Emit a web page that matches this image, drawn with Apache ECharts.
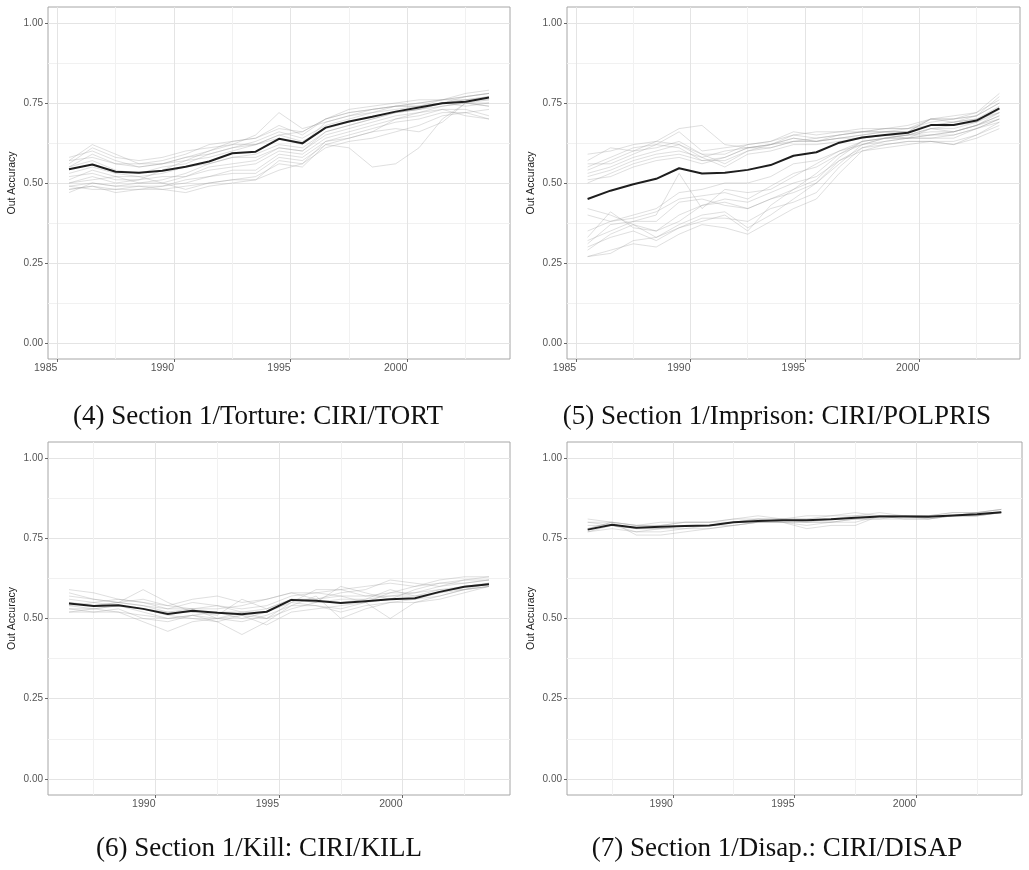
<!DOCTYPE html>
<html>
<head>
<meta charset="utf-8">
<title>Out Accuracy by year</title>
<script src="https://cdn.jsdelivr.net/npm/echarts@6/dist/echarts.min.js"></script>
<style>
  html, body { margin: 0; padding: 0; background: #fff; }
  #main { width: 1029px; height: 870px; }
</style>
</head>
<body>
<div id="main"></div>
<script>
// x position of each point (they sit between the year ticks)
const yearsTop = [1985.5, 1986.5, 1987.5, 1988.5, 1989.5, 1990.5, 1991.5, 1992.5, 1993.5, 1994.5,
  1995.5, 1996.5, 1997.5, 1998.5, 1999.5, 2000.5, 2001.5, 2002.5, 2003.5]
const yearsBottom = [1986.5, 1987.5, 1988.5, 1989.5, 1990.5, 1991.5, 1992.5, 1993.5, 1994.5,
  1995.5, 1996.5, 1997.5, 1998.5, 1999.5, 2000.5, 2001.5, 2002.5, 2003.5]

const xTicks = [1985, 1990, 1995, 2000]
const xMinor = [1987.5, 1992.5, 1997.5, 2002.5]
const yTicks = [0, 0.25, 0.5, 0.75, 1]
const yMinor = [0.125, 0.375, 0.625, 0.875]

// (4) torture
const tortMean = [0.543, 0.558, 0.535, 0.532, 0.538, 0.551, 0.567, 0.593, 0.598, 0.638, 0.624, 0.673, 0.692, 0.707, 0.723, 0.736, 0.749, 0.754, 0.767]
const tortRuns = [
  [0.57, 0.62, 0.59, 0.56, 0.57, 0.59, 0.62, 0.63, 0.64, 0.67, 0.66, 0.70, 0.72, 0.73, 0.74, 0.74, 0.76, 0.77, 0.78],
  [0.56, 0.61, 0.58, 0.57, 0.58, 0.60, 0.61, 0.62, 0.65, 0.72, 0.67, 0.69, 0.71, 0.73, 0.74, 0.75, 0.76, 0.78, 0.79],
  [0.58, 0.60, 0.57, 0.55, 0.56, 0.58, 0.60, 0.63, 0.64, 0.68, 0.65, 0.70, 0.73, 0.74, 0.75, 0.76, 0.76, 0.77, 0.78],
  [0.55, 0.59, 0.56, 0.55, 0.56, 0.58, 0.59, 0.61, 0.63, 0.66, 0.64, 0.68, 0.70, 0.72, 0.73, 0.74, 0.75, 0.76, 0.77],
  [0.50, 0.52, 0.50, 0.51, 0.54, 0.57, 0.58, 0.60, 0.62, 0.65, 0.63, 0.67, 0.69, 0.71, 0.72, 0.73, 0.75, 0.76, 0.76],
  [0.49, 0.50, 0.49, 0.50, 0.51, 0.53, 0.56, 0.58, 0.59, 0.62, 0.61, 0.66, 0.68, 0.70, 0.72, 0.73, 0.74, 0.75, 0.76],
  [0.48, 0.49, 0.48, 0.49, 0.49, 0.50, 0.52, 0.54, 0.54, 0.59, 0.58, 0.63, 0.64, 0.66, 0.70, 0.72, 0.74, 0.75, 0.75],
  [0.49, 0.48, 0.48, 0.48, 0.48, 0.49, 0.50, 0.51, 0.52, 0.56, 0.55, 0.62, 0.61, 0.55, 0.56, 0.61, 0.70, 0.75, 0.74],
  [0.50, 0.51, 0.52, 0.52, 0.50, 0.48, 0.50, 0.51, 0.51, 0.57, 0.56, 0.61, 0.63, 0.64, 0.66, 0.68, 0.71, 0.72, 0.73],
  [0.52, 0.53, 0.51, 0.51, 0.52, 0.52, 0.54, 0.55, 0.56, 0.60, 0.59, 0.64, 0.66, 0.68, 0.70, 0.71, 0.73, 0.73, 0.71],
  [0.53, 0.55, 0.53, 0.52, 0.53, 0.55, 0.56, 0.58, 0.58, 0.61, 0.60, 0.65, 0.67, 0.69, 0.71, 0.72, 0.73, 0.71, 0.70],
  [0.47, 0.50, 0.49, 0.49, 0.48, 0.47, 0.49, 0.50, 0.51, 0.54, 0.56, 0.63, 0.65, 0.67, 0.69, 0.70, 0.72, 0.72, 0.70],
  [0.55, 0.57, 0.54, 0.53, 0.55, 0.56, 0.59, 0.61, 0.62, 0.64, 0.62, 0.69, 0.71, 0.72, 0.74, 0.75, 0.76, 0.76, 0.77],
  [0.51, 0.54, 0.52, 0.50, 0.50, 0.52, 0.55, 0.56, 0.57, 0.61, 0.60, 0.66, 0.68, 0.70, 0.72, 0.73, 0.75, 0.74, 0.75],
  [0.57, 0.58, 0.56, 0.56, 0.56, 0.57, 0.60, 0.62, 0.62, 0.65, 0.66, 0.70, 0.72, 0.73, 0.74, 0.74, 0.75, 0.77, 0.78],
  [0.48, 0.49, 0.47, 0.48, 0.49, 0.51, 0.52, 0.53, 0.53, 0.58, 0.57, 0.62, 0.64, 0.66, 0.67, 0.66, 0.69, 0.75, 0.74]
]

// (5) imprison
const polMean = [0.450, 0.476, 0.496, 0.513, 0.546, 0.530, 0.532, 0.541, 0.556, 0.585, 0.596, 0.626, 0.642, 0.650, 0.657, 0.681, 0.681, 0.695, 0.733]
const polRuns = [
  [0.59, 0.60, 0.62, 0.63, 0.62, 0.58, 0.60, 0.61, 0.62, 0.65, 0.64, 0.65, 0.66, 0.66, 0.66, 0.70, 0.70, 0.71, 0.77],
  [0.56, 0.56, 0.59, 0.62, 0.61, 0.57, 0.58, 0.61, 0.61, 0.63, 0.63, 0.64, 0.65, 0.66, 0.66, 0.70, 0.70, 0.72, 0.76],
  [0.55, 0.58, 0.61, 0.62, 0.66, 0.60, 0.61, 0.62, 0.63, 0.66, 0.65, 0.66, 0.67, 0.67, 0.67, 0.69, 0.70, 0.71, 0.75],
  [0.53, 0.55, 0.58, 0.60, 0.62, 0.59, 0.56, 0.60, 0.62, 0.64, 0.63, 0.64, 0.65, 0.66, 0.66, 0.68, 0.69, 0.70, 0.74],
  [0.52, 0.54, 0.57, 0.59, 0.60, 0.58, 0.55, 0.59, 0.60, 0.62, 0.62, 0.63, 0.64, 0.65, 0.65, 0.67, 0.68, 0.69, 0.73],
  [0.50, 0.53, 0.56, 0.58, 0.59, 0.57, 0.57, 0.60, 0.61, 0.63, 0.64, 0.65, 0.66, 0.67, 0.67, 0.70, 0.69, 0.70, 0.72],
  [0.57, 0.61, 0.60, 0.63, 0.67, 0.68, 0.62, 0.61, 0.62, 0.64, 0.63, 0.64, 0.64, 0.65, 0.64, 0.67, 0.66, 0.68, 0.71],
  [0.54, 0.57, 0.60, 0.61, 0.63, 0.59, 0.59, 0.62, 0.63, 0.65, 0.66, 0.66, 0.66, 0.67, 0.68, 0.70, 0.71, 0.72, 0.78],
  [0.51, 0.52, 0.55, 0.57, 0.58, 0.56, 0.58, 0.61, 0.62, 0.63, 0.63, 0.65, 0.66, 0.66, 0.67, 0.68, 0.69, 0.71, 0.75],
  [0.32, 0.35, 0.38, 0.40, 0.53, 0.42, 0.48, 0.47, 0.48, 0.52, 0.56, 0.60, 0.62, 0.64, 0.65, 0.67, 0.67, 0.69, 0.72],
  [0.31, 0.37, 0.38, 0.38, 0.44, 0.45, 0.43, 0.42, 0.45, 0.48, 0.51, 0.58, 0.63, 0.64, 0.65, 0.66, 0.66, 0.68, 0.70],
  [0.27, 0.28, 0.32, 0.33, 0.36, 0.39, 0.39, 0.38, 0.42, 0.44, 0.47, 0.55, 0.61, 0.63, 0.64, 0.64, 0.64, 0.67, 0.69],
  [0.27, 0.29, 0.31, 0.30, 0.34, 0.37, 0.36, 0.34, 0.38, 0.42, 0.45, 0.53, 0.60, 0.62, 0.63, 0.63, 0.62, 0.65, 0.68],
  [0.42, 0.40, 0.37, 0.35, 0.40, 0.43, 0.45, 0.44, 0.47, 0.50, 0.52, 0.57, 0.61, 0.62, 0.63, 0.63, 0.62, 0.64, 0.67],
  [0.33, 0.41, 0.36, 0.35, 0.38, 0.43, 0.44, 0.42, 0.45, 0.47, 0.50, 0.56, 0.62, 0.63, 0.64, 0.64, 0.65, 0.67, 0.70],
  [0.29, 0.34, 0.37, 0.33, 0.37, 0.40, 0.41, 0.36, 0.40, 0.45, 0.50, 0.57, 0.60, 0.61, 0.62, 0.63, 0.63, 0.65, 0.69],
  [0.35, 0.38, 0.39, 0.41, 0.45, 0.46, 0.47, 0.45, 0.49, 0.53, 0.55, 0.59, 0.62, 0.64, 0.64, 0.65, 0.65, 0.67, 0.70],
  [0.30, 0.33, 0.35, 0.32, 0.36, 0.38, 0.40, 0.35, 0.43, 0.48, 0.53, 0.59, 0.63, 0.64, 0.65, 0.65, 0.66, 0.68, 0.71],
  [0.40, 0.38, 0.40, 0.42, 0.47, 0.48, 0.50, 0.50, 0.52, 0.56, 0.57, 0.60, 0.63, 0.64, 0.64, 0.65, 0.66, 0.68, 0.72]
]

// (6) kill
const killMean = [0.547, 0.539, 0.541, 0.530, 0.514, 0.524, 0.518, 0.513, 0.521, 0.558, 0.555, 0.548, 0.554, 0.560, 0.563, 0.583, 0.599, 0.607]
const killRuns = [
  [0.59, 0.58, 0.56, 0.55, 0.53, 0.55, 0.54, 0.53, 0.54, 0.57, 0.58, 0.59, 0.60, 0.61, 0.60, 0.62, 0.63, 0.63],
  [0.57, 0.56, 0.55, 0.56, 0.54, 0.56, 0.57, 0.55, 0.56, 0.58, 0.56, 0.58, 0.59, 0.62, 0.61, 0.60, 0.62, 0.62],
  [0.55, 0.54, 0.55, 0.59, 0.55, 0.52, 0.51, 0.56, 0.53, 0.56, 0.55, 0.60, 0.58, 0.56, 0.59, 0.61, 0.61, 0.62],
  [0.53, 0.52, 0.53, 0.50, 0.49, 0.51, 0.50, 0.49, 0.51, 0.54, 0.54, 0.52, 0.54, 0.55, 0.55, 0.57, 0.59, 0.60],
  [0.52, 0.53, 0.52, 0.49, 0.46, 0.49, 0.50, 0.51, 0.50, 0.55, 0.54, 0.53, 0.55, 0.50, 0.55, 0.56, 0.58, 0.60],
  [0.54, 0.53, 0.54, 0.53, 0.51, 0.50, 0.49, 0.45, 0.49, 0.54, 0.57, 0.50, 0.53, 0.55, 0.56, 0.58, 0.59, 0.61],
  [0.55, 0.54, 0.55, 0.54, 0.52, 0.53, 0.53, 0.54, 0.56, 0.58, 0.58, 0.57, 0.57, 0.57, 0.57, 0.59, 0.60, 0.61],
  [0.52, 0.52, 0.52, 0.51, 0.50, 0.51, 0.49, 0.51, 0.48, 0.52, 0.53, 0.54, 0.55, 0.56, 0.56, 0.57, 0.59, 0.60],
  [0.56, 0.55, 0.54, 0.53, 0.52, 0.52, 0.52, 0.50, 0.52, 0.56, 0.55, 0.55, 0.56, 0.57, 0.58, 0.60, 0.61, 0.62],
  [0.54, 0.55, 0.56, 0.55, 0.54, 0.53, 0.50, 0.52, 0.50, 0.53, 0.55, 0.56, 0.56, 0.59, 0.57, 0.58, 0.60, 0.61],
  [0.53, 0.53, 0.54, 0.52, 0.50, 0.51, 0.52, 0.52, 0.53, 0.56, 0.56, 0.57, 0.55, 0.58, 0.58, 0.59, 0.59, 0.60],
  [0.58, 0.56, 0.55, 0.54, 0.53, 0.53, 0.54, 0.52, 0.52, 0.55, 0.59, 0.59, 0.57, 0.58, 0.60, 0.61, 0.62, 0.63]
]

// (7) disap
const disapMean = [0.777, 0.792, 0.783, 0.786, 0.788, 0.790, 0.800, 0.804, 0.806, 0.806, 0.809, 0.814, 0.818, 0.818, 0.817, 0.821, 0.825, 0.831]
const disapRuns = [
  [0.81, 0.80, 0.79, 0.79, 0.80, 0.80, 0.81, 0.82, 0.81, 0.81, 0.82, 0.82, 0.83, 0.82, 0.82, 0.83, 0.83, 0.84],
  [0.77, 0.78, 0.77, 0.77, 0.78, 0.78, 0.79, 0.80, 0.80, 0.80, 0.80, 0.81, 0.81, 0.81, 0.81, 0.82, 0.82, 0.83],
  [0.78, 0.80, 0.76, 0.76, 0.77, 0.78, 0.79, 0.80, 0.80, 0.78, 0.79, 0.79, 0.82, 0.82, 0.81, 0.82, 0.83, 0.83],
  [0.80, 0.80, 0.79, 0.79, 0.80, 0.80, 0.80, 0.81, 0.81, 0.81, 0.81, 0.82, 0.82, 0.82, 0.82, 0.82, 0.83, 0.84],
  [0.79, 0.79, 0.78, 0.78, 0.79, 0.79, 0.80, 0.80, 0.81, 0.80, 0.80, 0.81, 0.82, 0.81, 0.81, 0.82, 0.82, 0.83],
  [0.77, 0.79, 0.78, 0.78, 0.78, 0.79, 0.79, 0.80, 0.80, 0.79, 0.80, 0.80, 0.82, 0.82, 0.82, 0.82, 0.82, 0.83],
  [0.78, 0.80, 0.79, 0.80, 0.80, 0.80, 0.81, 0.81, 0.81, 0.82, 0.82, 0.83, 0.82, 0.82, 0.82, 0.83, 0.83, 0.84],
  [0.80, 0.79, 0.77, 0.78, 0.79, 0.79, 0.80, 0.81, 0.80, 0.80, 0.81, 0.81, 0.81, 0.82, 0.82, 0.82, 0.82, 0.83]
]

const panels = [
  { years: yearsTop, mean: tortMean, runs: tortRuns, xMin: 1984.6, xMax: 2004.4,
    grid: { left: 48, top: 7, width: 462, height: 352 },
    caption: '(4) Section 1/Torture: CIRI/TORT', cx: 258, cy: 417 },
  { years: yearsTop, mean: polMean, runs: polRuns, xMin: 1984.6, xMax: 2004.4,
    grid: { left: 567, top: 7, width: 453, height: 352 },
    caption: '(5) Section 1/Imprison: CIRI/POLPRIS', cx: 777, cy: 417 },
  { years: yearsBottom, mean: killMean, runs: killRuns, xMin: 1985.65, xMax: 2004.35,
    grid: { left: 48, top: 442, width: 462, height: 353 },
    caption: '(6) Section 1/Kill: CIRI/KILL', cx: 259, cy: 849 },
  { years: yearsBottom, mean: disapMean, runs: disapRuns, xMin: 1985.65, xMax: 2004.35,
    grid: { left: 567, top: 442, width: 455, height: 353 },
    caption: '(7) Section 1/Disap.: CIRI/DISAP', cx: 777, cy: 849 }
]

const zip = (xs, ys) => xs.map((x, i) => [x, ys[i]])

const grids = [], xAxes = [], yAxes = [], series = [], graphics = []

panels.forEach((p, i) => {
  grids.push(Object.assign({
    show: true, borderColor: '#a6a6a6', borderWidth: 1, backgroundColor: '#fff',
    containLabel: false, outerBoundsMode: 'none'
  }, p.grid))

  const xt = xTicks.filter(v => v >= p.xMin && v <= p.xMax)
  // main axes: ticks, labels, major grid
  xAxes.push({
    type: 'value', gridIndex: i, min: p.xMin, max: p.xMax, position: 'bottom',
    axisLine: { show: false, onZero: false },
    axisTick: { show: true, length: 3, customValues: xt, lineStyle: { color: '#666' } },
    axisLabel: { customValues: xt, formatter: v => String(v), align: 'right', margin: 4,
      fontSize: 10.5, color: '#555', fontFamily: 'Liberation Sans' },
    splitLine: { show: true, lineStyle: { color: '#e4e4e4', width: 1 } }
  })
  yAxes.push({
    type: 'value', gridIndex: i, min: -0.05, max: 1.05, position: 'left',
    axisLine: { show: false, onZero: false },
    axisTick: { show: true, length: 3, customValues: yTicks, lineStyle: { color: '#666' } },
    axisLabel: { customValues: yTicks, formatter: v => v.toFixed(2), margin: 5, fontSize: 10,
      color: '#555', fontFamily: 'Liberation Sans' },
    splitLine: { show: true, lineStyle: { color: '#e4e4e4', width: 1 } },
    name: 'Out Accuracy', nameLocation: 'middle', nameRotate: 90, nameGap: 30,
    nameTextStyle: { fontFamily: 'Liberation Sans Narrow, Liberation Sans', fontSize: 10.5, color: '#222' }
  })

  series.push(...p.runs.map(r => ({
    type: 'line', xAxisIndex: i, yAxisIndex: i, data: zip(p.years, r),
    symbol: 'none', silent: true, z: 2,
    lineStyle: { color: 'rgba(150,150,150,0.3)', width: 1 }
  })))
  series.push({
    type: 'line', xAxisIndex: i, yAxisIndex: i, data: zip(p.years, p.mean),
    symbol: 'none', silent: true, z: 3,
    lineStyle: { color: '#1e1e1e', width: 2 }
  })

  graphics.push({
    type: 'text', x: p.cx, y: p.cy,
    style: { text: p.caption, fill: '#111', font: '27px "Liberation Serif", "DejaVu Serif", serif',
      textAlign: 'center', textVerticalAlign: 'middle', align: 'center', verticalAlign: 'middle' }
  })
})

// minor grid lines, one extra pair of axes per panel
panels.forEach((p, i) => {
  xAxes.push({
    type: 'value', gridIndex: i, min: p.xMin, max: p.xMax,
    axisLine: { show: false, onZero: false }, axisLabel: { show: false },
    axisTick: { show: false, customValues: xMinor },
    splitLine: { show: true, lineStyle: { color: '#f1f1f1', width: 1 } }
  })
  yAxes.push({
    type: 'value', gridIndex: i, min: -0.05, max: 1.05,
    axisLine: { show: false, onZero: false }, axisLabel: { show: false },
    axisTick: { show: false, customValues: yMinor },
    splitLine: { show: true, lineStyle: { color: '#f1f1f1', width: 1 } }
  })
})

const myChart = echarts.init(document.getElementById('main'))
myChart.setOption({
  animation: false,
  backgroundColor: '#fff',
  grid: grids,
  xAxis: xAxes,
  yAxis: yAxes,
  series: series,
  graphic: graphics
})
</script>
</body>
</html>
